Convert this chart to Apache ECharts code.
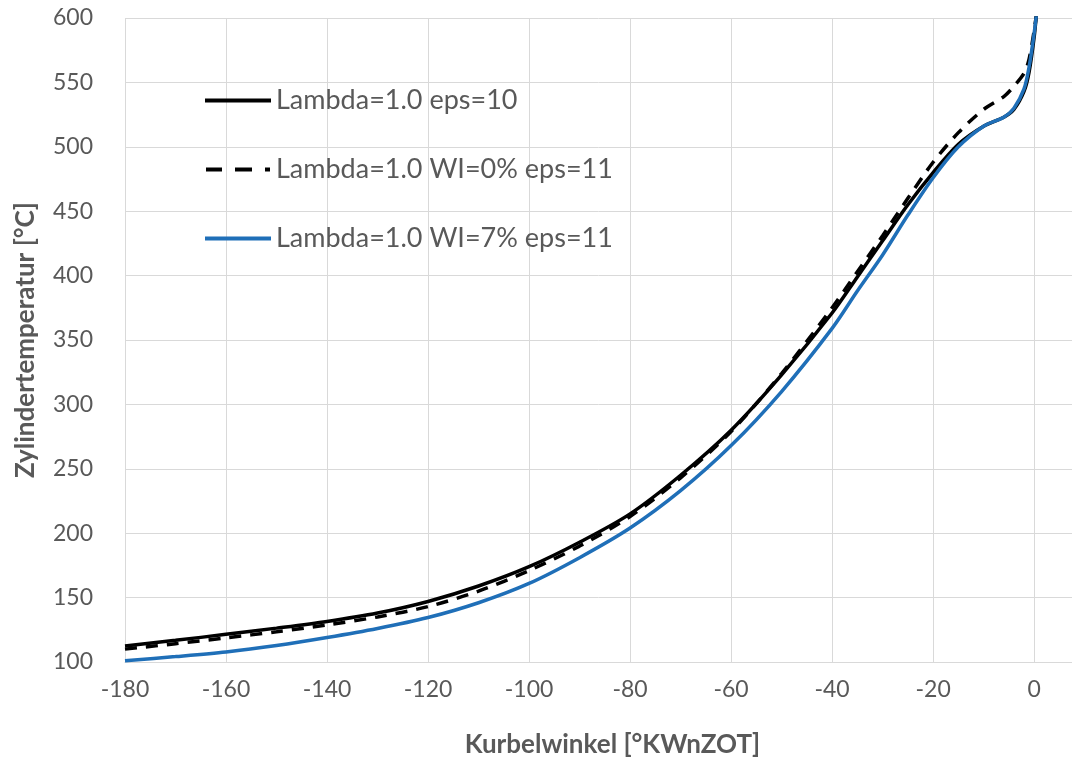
<!DOCTYPE html>
<html>
<head>
<meta charset="utf-8">
<script src="https://cdn.jsdelivr.net/npm/echarts@6/dist/echarts.min.js"></script>
<style>
html,body{margin:0;padding:0;background:#fff;}
#chart{width:1072px;height:765px;}
</style>
</head>
<body>
<div id="chart"></div>
<script>
// Crank angle positions [°KWnZOT]
const angles = [-180,-170,-160,-150,-140,-130,-120,-110,-100,-90,-80,-70,-60,-50,-40,-35,-30,-25,-20,-15,-10,-6,-4,-2,-1,0,0.5];
// Series values [°C]
const tempEps10    = [112.5,116.8,121.5,126.3,131.5,138,147,159,174,193,215,245,280,323,371,399,427,455,480,502,516,523,529,543,558,585,605];
const tempWI0eps11 = [110,114.2,118.7,123.5,128.8,135,143,155,171,190,213,243,279,324,375,403,431,460,488,511,529,539,547,557,568,590,604];
const tempWI7eps11 = [101,104.2,107.8,112.8,119,126,134.5,146,161,181,204,233,268,310,359,388,416,447,476,500,516,523,530,545,562,588,604];
const seriesNames = ['Lambda=1.0 eps=10','Lambda=1.0 WI=0% eps=11','Lambda=1.0 WI=7% eps=11'];
const xAxisTitle = 'Kurbelwinkel [°KWnZOT]';
const yAxisTitle = 'Zylindertemperatur [°C]';

function pairs(vals){ return angles.map((a,i)=>[a, vals[i]]); }

const font = 'Lato';
const txt = '#595959';
const blue = '#1f6fb8';
const dashIcon = 'path://M0,0h16v4h-16z M29,0h17v4h-17z M59,0h5v4h-5z';
const chart = echarts.init(document.getElementById('chart'));
chart.setOption({
  animation:false,
  backgroundColor:'#ffffff',
  grid:{left:125, top:18, right:0, bottom:103, containLabel:false},
  legend:{
    orient:'vertical', left:200, top:82,
    itemWidth:66, itemHeight:4, itemGap:42,
    textStyle:{fontFamily:font, fontSize:27, color:txt},
    data:[
      {name:seriesNames[0], icon:'rect', itemStyle:{color:'#000'}},
      {name:seriesNames[1], icon:dashIcon, itemStyle:{color:'#000'}},
      {name:seriesNames[2], icon:'rect', itemStyle:{color:blue}}
    ]
  },
  xAxis:{
    type:'value', min:-180, max:7.5, interval:20,
    name:xAxisTitle, nameLocation:'middle', nameGap:70,
    nameTextStyle:{fontFamily:font, fontSize:26, fontWeight:'bold', color:txt, padding:[0,0,0,28]},
    axisLine:{show:true, lineStyle:{color:'#d9d9d9', width:1}},
    axisTick:{show:false},
    axisLabel:{fontFamily:font, fontSize:23, color:txt, margin:16, showMaxLabel:false},
    splitLine:{show:true, lineStyle:{color:'#d9d9d9', width:1}}
  },
  yAxis:{
    type:'value', min:100, max:600, interval:50,
    name:yAxisTitle, nameLocation:'middle', nameGap:86,
    nameTextStyle:{fontFamily:font, fontSize:26, fontWeight:'bold', color:txt},
    axisLine:{show:false},
    axisTick:{show:false},
    axisLabel:{fontFamily:font, fontSize:23, color:txt, margin:32},
    splitLine:{show:true, lineStyle:{color:'#d9d9d9', width:1}}
  },
  series:[
    {name:seriesNames[0], type:'line', data:pairs(tempEps10), symbol:'none', showSymbol:false,
     smooth:0.3, lineStyle:{color:'#000000', width:3.5}, itemStyle:{color:'#000000'}},
    {name:seriesNames[1], type:'line', data:pairs(tempWI0eps11), symbol:'none', showSymbol:false,
     smooth:0.3, lineStyle:{color:'#000000', width:3.5, type:[12,9]}, itemStyle:{color:'#000000'}},
    {name:seriesNames[2], type:'line', data:pairs(tempWI7eps11), symbol:'none', showSymbol:false,
     smooth:0.3, lineStyle:{color:blue, width:3.5}, itemStyle:{color:blue}}
  ]
});
</script>
</body>
</html>
